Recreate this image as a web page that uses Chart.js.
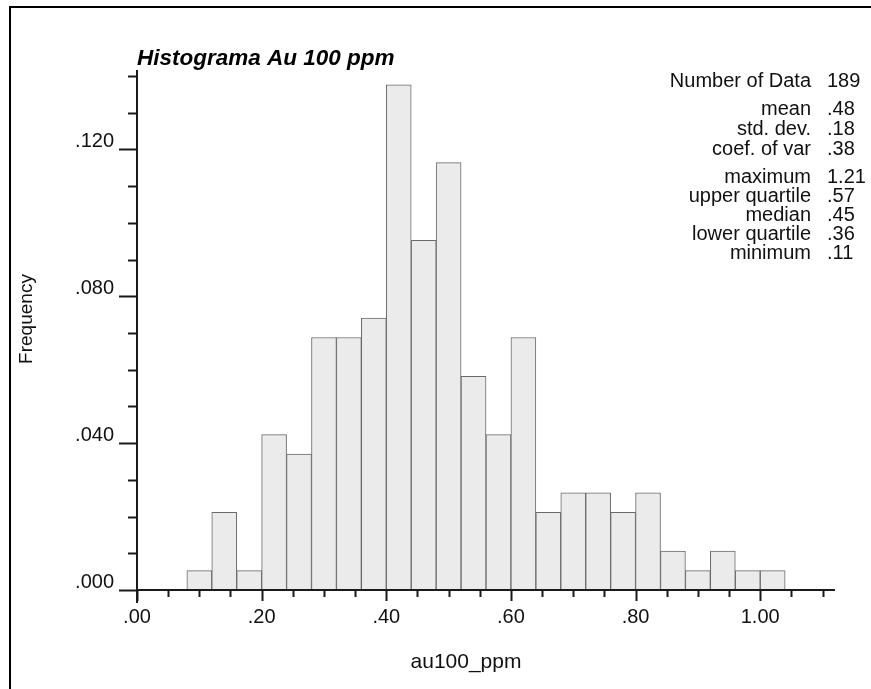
<!DOCTYPE html>
<html>
<head>
<meta charset="utf-8">
<script src="https://cdn.jsdelivr.net/npm/chart.js@4/dist/chart.umd.min.js"></script>
<style>
  html, body { margin: 0; padding: 0; background: #ffffff; }
  #c { display: block; }
</style>
</head>
<body>
<canvas id="c" width="871" height="689"></canvas>
<script>
// Histogram bins of au100_ppm: lower edge of each class and its count
const binLower = [0.08, 0.12, 0.16, 0.20, 0.24, 0.28, 0.32, 0.36, 0.40, 0.44, 0.48, 0.52,
                  0.56, 0.60, 0.64, 0.68, 0.72, 0.76, 0.80, 0.84, 0.88, 0.92, 0.96, 1.00];
const binCounts = [1, 4, 1, 8, 7, 13, 13, 14, 26, 18, 22, 11,
                   8, 13, 4, 5, 5, 4, 5, 2, 1, 2, 1, 1];
const binWidth = 0.04;
const numberOfData = 189;

// Summary statistics printed at the upper right
const statLabels = ['Number of Data', 'mean', 'std. dev.', 'coef. of var',
                    'maximum', 'upper quartile', 'median', 'lower quartile', 'minimum'];
const statValues = ['189', '.48', '.18', '.38', '1.21', '.57', '.45', '.36', '.11'];
const statBaselines = [87, 115, 135, 155, 183, 202, 221, 240, 259];

// Axis ranges and tick spacing
const xRange = [0, 1.12];
const yRange = [0, 0.14];
const xMajorStep = 0.2, xMinorStep = 0.05;
const yMajorStep = 0.04, yMinorStep = 0.01;

const FONT = "'Liberation Sans', Arial, Helvetica, sans-serif";

const histogramPoints = binLower.map((lo, i) => ({
  x: lo + binWidth / 2,
  y: binCounts[i] / numberOfData
}));

function dropLeadingZero(v, digits) {
  return v.toFixed(digits).replace(/^0\./, '.');
}

function isMultiple(v, step) {
  const r = (v / step) % 1;
  return r < 1e-6 || r > 1 - 1e-6;
}

// Axis lines, tick marks, axis titles, stats block and the outer frame
const decorations = {
  id: 'decorations',
  afterDraw(chart) {
    const { ctx, scales: { x, y } } = chart;
    const x0 = x.getPixelForValue(xRange[0]);
    const x1 = x.getPixelForValue(xRange[1]);
    const y0 = y.getPixelForValue(yRange[0]);
    const y1 = y.getPixelForValue(yRange[1]);
    ctx.save();

    // outer frame (top and left edges)
    ctx.strokeStyle = '#000';
    ctx.lineWidth = 2;
    ctx.beginPath();
    ctx.moveTo(10, 689);
    ctx.lineTo(10, 7);
    ctx.lineTo(871, 7);
    ctx.stroke();

    // axis lines
    ctx.strokeStyle = '#1a1a1a';
    ctx.lineWidth = 2;
    ctx.beginPath();
    ctx.moveTo(x0, y1 - 6);
    ctx.lineTo(x0, y0 + 13);
    ctx.moveTo(x0, y0);
    ctx.lineTo(x1, y0);
    ctx.stroke();

    // tick marks: long at labelled values, short in between
    ctx.beginPath();
    for (let k = 0; k <= Math.round((yRange[1] - yRange[0]) / yMinorStep); k++) {
      const v = yRange[0] + k * yMinorStep;
      const py = Math.round(y.getPixelForValue(v)) + 0.5;
      ctx.moveTo(x0, py);
      ctx.lineTo(x0 - (isMultiple(v, yMajorStep) ? 18 : 9), py);
    }
    for (let k = 0; xRange[0] + k * xMinorStep <= xRange[1] + 1e-9; k++) {
      const v = xRange[0] + k * xMinorStep;
      const px = Math.round(x.getPixelForValue(v)) + 0.5;
      ctx.moveTo(px, y0);
      ctx.lineTo(px, y0 + (isMultiple(v, xMajorStep) ? 11 : 7));
    }
    ctx.stroke();

    // axis titles
    ctx.fillStyle = '#111';
    ctx.font = `21px ${FONT}`;
    ctx.textAlign = 'center';
    ctx.textBaseline = 'alphabetic';
    ctx.fillText('au100_ppm', 466, 668);
    ctx.save();
    ctx.translate(32, 319);
    ctx.rotate(-Math.PI / 2);
    ctx.font = `19px ${FONT}`;
    ctx.fillText('Frequency', 0, 0);
    ctx.restore();

    // statistics block
    ctx.font = `20px ${FONT}`;
    statLabels.forEach((label, i) => {
      ctx.textAlign = 'right';
      ctx.fillText(label, 811, statBaselines[i]);
      ctx.textAlign = 'left';
      ctx.fillText(statValues[i], 827, statBaselines[i]);
    });

    ctx.restore();
  }
};

new Chart(document.getElementById('c'), {
  type: 'bar',
  data: {
    datasets: [{
      label: 'au100_ppm',
      data: histogramPoints,
      backgroundColor: '#ebebeb',
      borderColor: '#6a6a6a',
      borderWidth: 1,
      borderSkipped: 'start',
      barPercentage: 1,
      categoryPercentage: 1
    }]
  },
  options: {
    responsive: false,
    animation: false,
    events: [],
    layout: { padding: { left: 0, right: 36, top: 0, bottom: 0 } },
    plugins: {
      legend: { display: false },
      tooltip: { enabled: false },
      title: {
        display: true,
        text: 'Histograma Au 100 ppm',
        align: 'start',
        fullSize: false,
        color: '#000',
        font: { family: FONT, size: 22.5, weight: 'bold', style: 'italic' },
        padding: { top: 45, bottom: 4 }
      }
    },
    scales: {
      x: {
        type: 'linear',
        min: xRange[0],
        max: xRange[1],
        offset: false,
        grid: { display: false, drawTicks: false },
        border: { display: false },
        ticks: {
          stepSize: xMajorStep,
          includeBounds: false,
          autoSkip: false,
          maxRotation: 0,
          padding: 15.5,
          color: '#111',
          font: { family: FONT, size: 20 },
          callback: (v) => dropLeadingZero(v, 2)
        },
        afterFit: (s) => { s.height = 99; }
      },
      y: {
        min: yRange[0],
        max: yRange[1],
        grid: { display: false, drawTicks: false },
        border: { display: false },
        ticks: {
          stepSize: yMajorStep,
          includeBounds: false,
          padding: 23,
          labelOffset: -7.5,
          color: '#111',
          font: { family: FONT, size: 20 },
          callback: (v) => dropLeadingZero(v, 3)
        },
        afterFit: (s) => { s.width = 137; }
      }
    }
  },
  plugins: [decorations]
});
</script>
</body>
</html>
